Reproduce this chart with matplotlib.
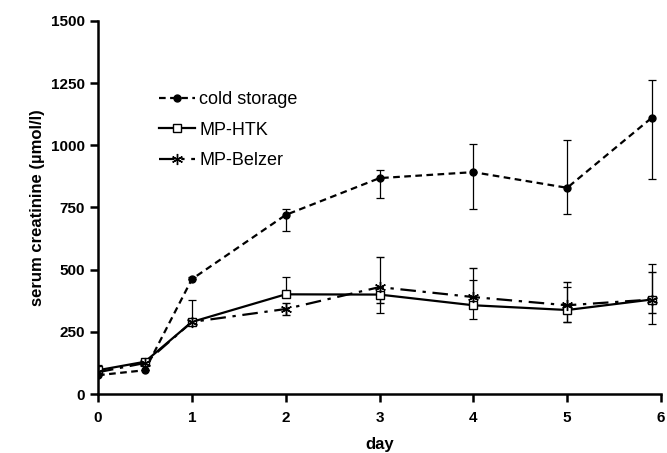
import numpy as np
import matplotlib
matplotlib.use("Agg")
import matplotlib.pyplot as plt

plt.rcParams['font.family'] = ['Liberation Sans', 'DejaVu Sans']

days = [0, 0.5, 1, 2, 3, 4, 5, 5.9]

cold = [76, 96, 462, 720, 868, 892, 829, 1110]
cold_lo = [0, 0, 0, 63, 80, 149, 104, 245]
cold_hi = [0, 0, 10, 24, 32, 113, 192, 152]

htk = [96, 130, 290, 401, 400, 357, 338, 380]
htk_lo = [0, 0, 0, 0, 75, 55, 48, 99]
htk_hi = [22, 0, 88, 71, 0, 100, 92, 142]

belzer = [88, 125, 290, 342, 430, 390, 357, 380]
belzer_lo = [0, 0, 0, 24, 65, 0, 67, 55]
belzer_hi = [15, 0, 0, 23, 121, 115, 93, 111]

labels = ["cold storage", "MP-HTK", "MP-Belzer"]

fig = plt.figure(figsize=(6.67, 4.53), dpi=100)
ax = fig.add_axes([0.147, 0.130, 0.844, 0.824])

c1 = ax.errorbar(days, cold, yerr=[cold_lo, cold_hi], marker="o", ls=(0, (3, 2)), color="black",
                 lw=1.6, ms=5, capsize=3, elinewidth=0.9, capthick=0.9)
c2 = ax.errorbar(days, htk, yerr=[htk_lo, htk_hi], marker="s", ls="-", color="black", mfc="white",
                 lw=1.6, ms=6, capsize=3, elinewidth=0.9, capthick=0.9)
c3 = ax.errorbar(days, belzer, yerr=[belzer_lo, belzer_hi], marker=(6, 2, 0), ls=(0, (7, 3, 1.5, 3)),
                 color="black", lw=1.6, ms=8, mew=1.0, capsize=3, elinewidth=0.9, capthick=0.9)

ax.set_xlim(0, 6)
ax.set_ylim(0, 1500)
ax.set_xticks(range(7))
ax.set_yticks(range(0, 1501, 250))
ax.spines["top"].set_visible(False)
ax.spines["right"].set_visible(False)
for s in ("left", "bottom"):
    ax.spines[s].set_linewidth(1.8)
ax.tick_params(width=1.8, length=6, labelsize=11)
ax.tick_params(axis="x", pad=6)
for lab in ax.get_xticklabels() + ax.get_yticklabels():
    lab.set_fontweight("bold")
ax.set_xlabel("day", fontsize=12, fontweight="bold", labelpad=9)
ax.set_ylabel("serum creatinine (µmol/l)", fontsize=12, fontweight="bold")

leg = ax.legend([c1[0], c2[0], c3[0]], labels, loc="upper left", bbox_to_anchor=(0.08, 0.855),
                frameon=False, fontsize=13, handlelength=2.0, labelspacing=0.75, handletextpad=0.2)

fig.savefig("out.png", dpi=100)
